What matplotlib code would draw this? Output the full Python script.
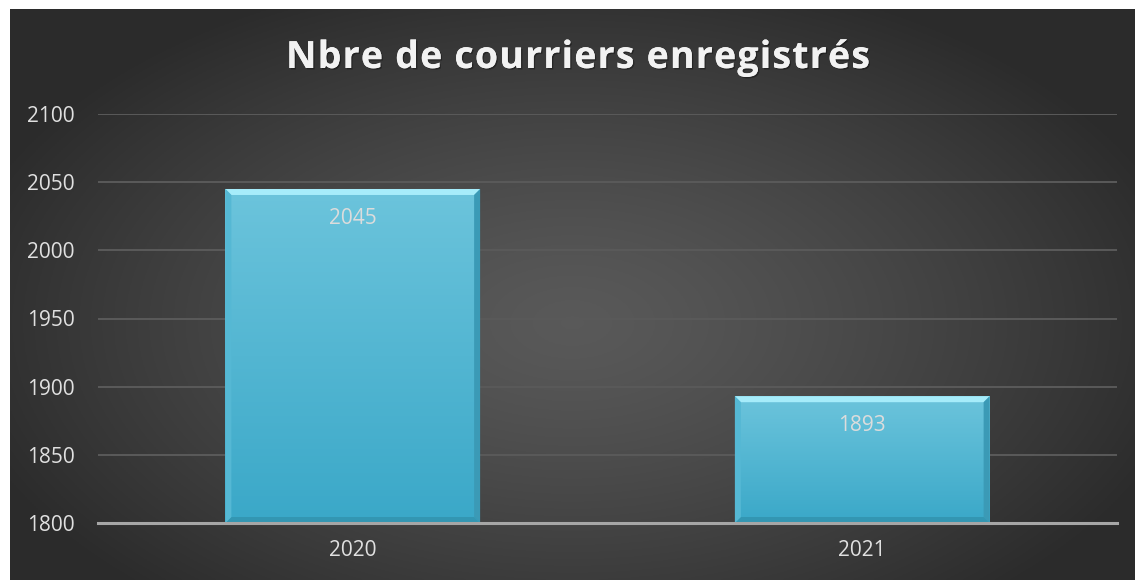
import numpy as np
import matplotlib.pyplot as plt
import matplotlib.patheffects as pe
from matplotlib.patches import Polygon
from matplotlib.font_manager import FontProperties
from matplotlib.textpath import text_to_path
from matplotlib.transforms import ScaledTranslation

# data
years = ["2020", "2021"]
courriers = [2045, 1893]
y_ticks = [1800, 1850, 1900, 1950, 2000, 2050, 2100]
title = "Nbre de courriers enregistrés"

W, H, DPI = 1135, 580, 100
fig = plt.figure(figsize=(W / DPI, H / DPI), dpi=DPI, facecolor="white")

# dark panel with radial gradient
bg = fig.add_axes([10 / W, 0, 1 - 10 / W, 1 - 9 / H])
bg.set_axis_off()
yy, xx = np.mgrid[0:1:300j, 0:1:600j]
r = np.sqrt(((xx - 0.5) / 0.75) ** 2 + ((yy - 0.45) / 0.85) ** 2)
r = np.clip(r / 0.75, 0, 1)
shade = 0.35 - 0.18 * r ** 1.3
bg.imshow(np.dstack([shade] * 3), extent=[0, 1, 0, 1], aspect="auto", origin="lower")
bg.set_xlim(0, 1)
bg.set_ylim(0, 1)

ax = fig.add_axes([98 / W, 1 - 523 / H, (1117 - 98) / W, (523 - 114) / H])
ax.patch.set_alpha(0)
x = np.arange(len(years))
bars = ax.bar(x, [v - 1800 for v in courriers], bottom=1800, width=0.5,
              color="#55bcd8", zorder=3)
ax.set_xlim(-0.5, len(years) - 0.5)
ax.set_ylim(1800, 2100)
ax.set_yticks(y_ticks)
ax.set_xticks(x)
ax.set_xticklabels(years)
ax.grid(axis="y", color="#5a5a5a", linewidth=1.4, zorder=0)
for s in ["top", "right", "left"]:
    ax.spines[s].set_visible(False)
ax.spines["bottom"].set_color("#a6a6a6")
ax.spines["bottom"].set_linewidth(2.2)
ax.spines["bottom"].set_zorder(5)
ax.tick_params(length=0, labelsize=15, colors="#e0e0e0", pad=12)
ax.tick_params(axis="y", pad=17)
for lab in ax.get_xticklabels() + ax.get_yticklabels():
    lab.set_fontfamily("Open Sans")

# bar gradient + bevel, built from the bar patches
fig.canvas.draw()
grad = np.linspace(0, 1, 100).reshape(-1, 1)
top_c = np.array([0x6c, 0xc4, 0xdc]) / 255
bot_c = np.array([0x3a, 0xa8, 0xc8]) / 255
img = bot_c[None, None, :] * (1 - grad[..., None]) + top_c[None, None, :] * grad[..., None]
bev = 6
for b, v in zip(bars, courriers):
    x0, y0 = b.get_x(), b.get_y()
    x1, y1 = x0 + b.get_width(), y0 + b.get_height()
    im = ax.imshow(img, extent=[x0, x1, y0, y1], origin="lower", aspect="auto", zorder=3)
    im.set_clip_path(b)
    (px0, py0), (px1, py1) = ax.transData.transform([(x0, y0), (x1, y1)])
    edges = [
        ([(px0, py1), (px1, py1), (px1 - bev, py1 - bev), (px0 + bev, py1 - bev)], "#a6ecfa"),
        ([(px1, py1), (px1, py0), (px1 - bev, py0 + bev), (px1 - bev, py1 - bev)], "#3b9ab6"),
        ([(px0, py0), (px1, py0), (px1 - bev, py0 + bev), (px0 + bev, py0 + bev)], "#3396b2"),
        ([(px0, py1), (px0, py0), (px0 + bev, py0 + bev), (px0 + bev, py1 - bev)], "#55b8d4"),
    ]
    for pts, c in edges:
        ax.add_patch(Polygon(pts, closed=True, transform=None, facecolor=c,
                             edgecolor="none", zorder=4))
    ax.text(b.get_x() + b.get_width() / 2, y1, str(v), ha="center", va="top",
            fontsize=15, color="#dcdcdc", family="Open Sans", zorder=6,
            transform=ax.transData + ScaledTranslation(0, -19 / DPI, fig.dpi_scale_trans))

# title with letter spacing, drawn character by character
fp = FontProperties(family="Open Sans", weight="bold", size=27)
spacing = 1.2  # px
adv = [text_to_path.get_text_width_height_descent(ch, fp, ismath=False)[0] * DPI / 72
       for ch in title]
total = sum(adv) + spacing * (len(title) - 1)
cx = 578
xpos = cx - total / 2
for ch, a in zip(title, adv):
    fig.text(xpos / W, 1 - 58 / H, ch, fontproperties=fp, color="#f2f2f2",
             ha="left", va="center",
             path_effects=[pe.withSimplePatchShadow(offset=(1, -1), shadow_rgbFace="black", alpha=0.35),
                           pe.Normal()])
    xpos += a + spacing

fig.savefig("out.png", dpi=DPI, facecolor="white")
